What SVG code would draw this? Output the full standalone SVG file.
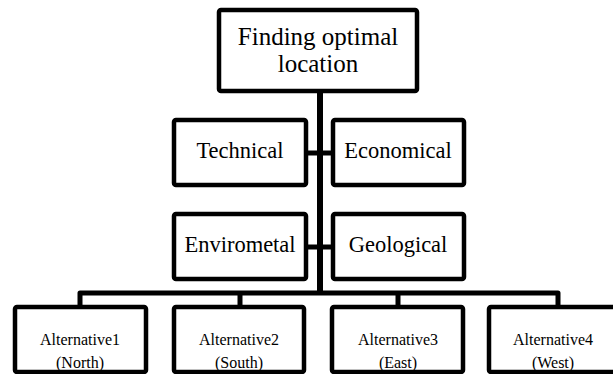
<svg xmlns="http://www.w3.org/2000/svg" width="613" height="374" viewBox="0 0 613 374">
<style>
.box{fill:#fff;stroke:#000;stroke-width:4.5;stroke-linejoin:round}
.ln{fill:none;stroke:#000;stroke-width:5;stroke-linejoin:round}
.t1{font-size:25px}
.t2{font-size:22.5px}
.t3{font-size:16px}
</style>
<rect width="613" height="374" fill="#fff"/>
<g id="connectors">
<line class="ln" x1="320" y1="92" x2="320" y2="293" style="stroke-width:6"/>
<line class="ln" x1="306" y1="153" x2="333" y2="153"/>
<line class="ln" x1="306" y1="247" x2="333" y2="247"/>
<path class="ln" d="M80,307 V293 H558 V307"/>
<line class="ln" x1="240" y1="293" x2="240" y2="307"/>
<line class="ln" x1="398" y1="293" x2="398" y2="307"/>
</g>
<g font-family="Liberation Serif, Times New Roman, DejaVu Serif, serif" text-anchor="middle" fill="#000">
<g id="root">
<rect class="box" x="219" y="10" width="198" height="81" rx="2"/>
<text class="t1" x="318" y="45">Finding optimal</text>
<text class="t1" x="318" y="72">location</text>
</g>
<g id="technical">
<rect class="box" x="174" y="120" width="132" height="65" rx="2"/>
<text class="t2" x="240" y="158">Technical</text>
</g>
<g id="economical">
<rect class="box" x="333" y="120" width="131" height="65" rx="2"/>
<text class="t2" x="398" y="158">Economical</text>
</g>
<g id="enviromental">
<rect class="box" x="174" y="214" width="132" height="65" rx="2"/>
<text class="t2" x="240" y="252">Envirometal</text>
</g>
<g id="geological">
<rect class="box" x="333" y="214" width="131" height="65" rx="2"/>
<text class="t2" x="398" y="252">Geological</text>
</g>
<g id="alt1">
<rect class="box" x="15" y="307" width="131" height="65" rx="2"/>
<text class="t3" x="80" y="345">Alternative1</text>
<text class="t3" x="80" y="368">(North)</text>
</g>
<g id="alt2">
<rect class="box" x="174" y="307" width="130" height="65" rx="2"/>
<text class="t3" x="239" y="345">Alternative2</text>
<text class="t3" x="239" y="368">(South)</text>
</g>
<g id="alt3">
<rect class="box" x="332" y="307" width="131" height="65" rx="2"/>
<text class="t3" x="398" y="345">Alternative3</text>
<text class="t3" x="398" y="368">(East)</text>
</g>
<g id="alt4">
<rect class="box" x="489" y="307" width="134" height="65" rx="2"/>
<text class="t3" x="553" y="345">Alternative4</text>
<text class="t3" x="553" y="368">(West)</text>
</g>
</g>
</svg>
